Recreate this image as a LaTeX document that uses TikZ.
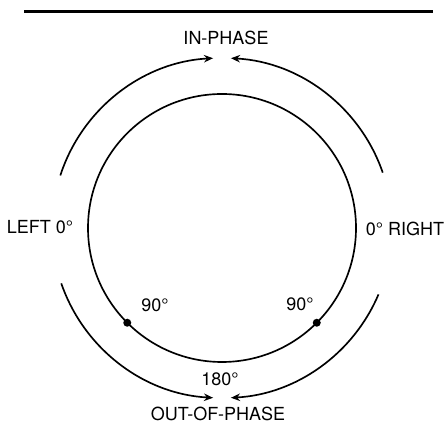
\documentclass[tikz,border=0pt]{standalone}
\usepackage{fontspec}
\setmainfont{TeX Gyre Heros}
\usetikzlibrary{arrows.meta}

\begin{document}
\begin{tikzpicture}[x=0.6pt, y=0.6pt, >={Stealth[length=5.5pt,width=4.5pt]},
  font=\fontsize{10.8}{12}\selectfont, line width=1pt]
\useasboundingbox (0,0) rectangle (446,423);
\coordinate (ctr) at (222,195);

% rule at the top
\coordinate (ruleL) at (24,411);
\coordinate (ruleR) at (433,411);
\draw[line width=1.8pt] (ruleL) -- (ruleR);

% phase circle with the two 90 degree points
\draw (ctr) circle (134);
\fill ([shift={(225:134)}]ctr) circle (4);
\fill ([shift={(315:134)}]ctr) circle (4);

% outer arrows
\draw[->] ([shift={(162:170)}]ctr) arc[start angle=162, end angle=93, radius=170];
\draw[->] ([shift={(19:170)}]ctr) arc[start angle=19, end angle=87, radius=170];
\draw[->] ([shift={(199:170)}]ctr) arc[start angle=199, end angle=267, radius=170];
\draw[->] ([shift={(337:170)}]ctr) arc[start angle=337, end angle=273, radius=170];

% labels
\node (inph) at (226,385) {IN-PHASE};
\node (outph) at (218,9) {OUT-OF-PHASE};
\node (left) at (40,196) {LEFT 0°};
\node (right) at (405,194) {0° RIGHT};
\node (nineL) at (155,118) {90°};
\node (nineR) at (300,119) {90°};
\node (oneeighty) at (220,44) {180°};
\end{tikzpicture}
\end{document}
